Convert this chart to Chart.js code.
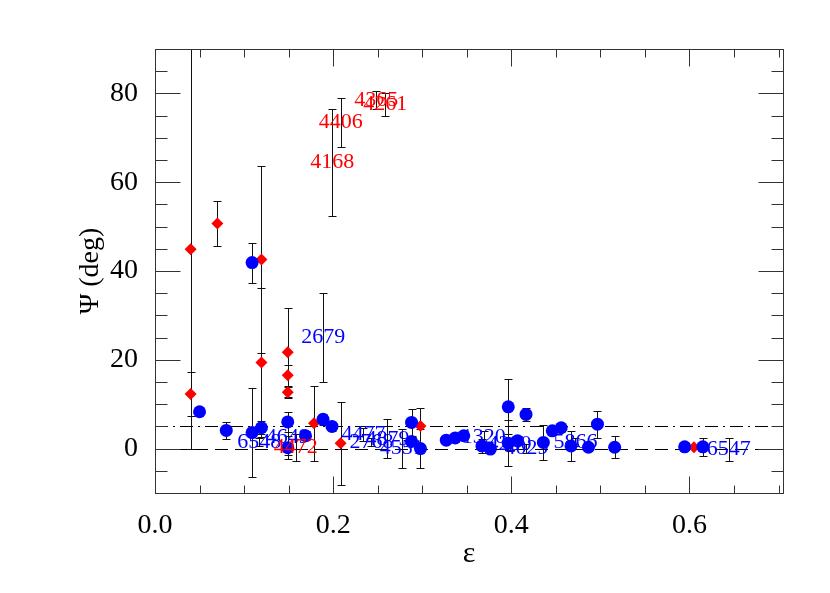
<!DOCTYPE html>
<html>
<head>
<meta charset="utf-8">
<script src="https://cdn.jsdelivr.net/npm/chart.js@4.4.1/dist/chart.umd.min.js"></script>
<style>
  html, body { margin: 0; padding: 0; background: #fff; }
</style>
</head>
<body>
<canvas id="psiChart" width="830" height="593"></canvas>
<script>
// Blue circles: epsilon, Psi (deg), error
const blueX = [0.050, 0.080, 0.109, 0.109, 0.1195, 0.149, 0.149, 0.169, 0.1886, 0.1987, 0.288, 0.288, 0.298, 0.327, 0.337, 0.3466, 0.367, 0.3765, 0.3966, 0.3966, 0.407, 0.4165, 0.436, 0.446, 0.456, 0.467, 0.4866, 0.4967, 0.516, 0.5946, 0.615];
const blueY = [8.3, 4.1, 41.9, 3.6, 4.7, 6.0, 0.2, 2.9, 6.6, 5.0, 5.9, 1.6, 0.0, 1.9, 2.4, 2.9, 0.6, -0.1, 9.4, 1.2, 1.75, 7.7, 1.4, 4.0, 4.7, 0.6, 0.3, 5.5, 0.3, 0.4, 0.4];
const blueErr = [0, 2.0, 4.5, 10.0, 1.5, 2.3, 2.6, 1.0, 1.3, 1.0, 3.0, 1.0, 4.4, 0.8, 0.8, 0.8, 1.5, 1.0, 6.2, 5.2, 1.0, 1.5, 4.0, 0.8, 0.8, 3.3, 0.8, 3.0, 2.5, 0.8, 2.0];

// Red diamonds
const redX = [0.040, 0.040, 0.070, 0.1195, 0.1195, 0.149, 0.149, 0.149, 0.1785, 0.2084, 0.298, 0.605];
const redY = [44.9, 12.3, 50.7, 42.6, 19.4, 21.7, 16.5, 12.7, 5.7, 1.2, 5.1, 0.3];
const redErr = [45, 5.0, 5.0, 21.0, 16.8, 10.0, 2.4, 1.2, 8.5, 9.4, 4.0, 0.5];

// Points shown as their name instead of a marker
const blueNames = ['2679', '6548', '4649', '4477', '4879', '2768', '4551', '1320', '4280', '4029', '5866', '6547'];
const blueLabX = [0.189, 0.117, 0.149, 0.234, 0.261, 0.243, 0.277, 0.369, 0.398, 0.417, 0.472, 0.644];
const blueLabY = [25, 1.5, 2.5, 3.2, 2.2, 1.5, 0, 2.5, 1.0, 0, 1.5, -0.2];
const blueLabErr = [10, 1, 4, 1.5, 4.4, 1, 4.4, 1.5, 1.5, 1, 1, 2.5];

const redNames = ['4168', '4406', '4365', '4261', '4472'];
const redLabX = [0.199, 0.2085, 0.2485, 0.2585, 0.158];
const redLabY = [64.5, 73.5, 78.5, 77.5, 0.3];
const redLabErr = [12, 5.5, 2, 2.5, 3];

// horizontal reference lines: dashed at 0, dash-dot at 5
const refLines = [0, 5];

const serif = "'Liberation Serif', 'Times New Roman', serif";
const BLUE = '#0000ff';
const RED = '#ff0000';

function pts(xs, ys, errs) {
    return xs.map((x, i) => ({ x: x, y: ys[i], err: errs[i] }));
}

function isMultiple(v, step) {
    const r = v / step;
    return Math.abs(r - Math.round(r)) < 1e-6;
}

// error bars, drawn under the markers
const errorBars = {
    id: 'errorBars',
    beforeDatasetsDraw(chart) {
        const { ctx, chartArea: a, scales: { x, y } } = chart;
        ctx.save();
        ctx.beginPath();
        ctx.rect(a.left, a.top - 1, a.width, a.height + 2);
        ctx.clip();

        // reference lines
        ctx.strokeStyle = '#000';
        ctx.lineWidth = 1;
        refLines.forEach((v, i) => {
            const py = Math.round(y.getPixelForValue(v)) + 0.5;
            ctx.setLineDash(i === 0 ? [13, 7] : [13, 5, 2, 5]);
            ctx.beginPath();
            ctx.moveTo(a.left, py);
            ctx.lineTo(a.right, py);
            ctx.stroke();
        });
        ctx.setLineDash([]);

        ctx.strokeStyle = '#111';
        chart.data.datasets.forEach(ds => {
            ds.data.forEach(p => {
                if (!p.err) return;
                const px = Math.round(x.getPixelForValue(p.x)) + 0.5;
                const top = Math.round(y.getPixelForValue(p.y + p.err)) + 0.5;
                const bot = Math.round(y.getPixelForValue(p.y - p.err)) + 0.5;
                ctx.beginPath();
                ctx.moveTo(px, top);
                ctx.lineTo(px, bot);
                ctx.moveTo(px - 4, top);
                ctx.lineTo(px + 4, top);
                ctx.moveTo(px - 4, bot);
                ctx.lineTo(px + 4, bot);
                ctx.stroke();
            });
        });
        ctx.restore();
    }
};

// names written at the point position
const nameLabels = {
    id: 'nameLabels',
    afterDatasetsDraw(chart) {
        const { ctx, scales: { x, y } } = chart;
        ctx.save();
        ctx.font = '22px ' + serif;
        ctx.textAlign = 'center';
        ctx.textBaseline = 'middle';
        chart.data.datasets.forEach(ds => {
            if (!ds.names) return;
            ctx.fillStyle = ds.textColor;
            ds.data.forEach((p, i) => {
                ctx.fillText(ds.names[i], x.getPixelForValue(p.x), y.getPixelForValue(p.y));
            });
        });
        ctx.restore();
    }
};

// box and inward ticks on all four sides
const frame = {
    id: 'frame',
    afterDraw(chart) {
        const { ctx, chartArea: a, scales: { x, y } } = chart;
        const L = Math.round(a.left) + 0.5, R = Math.round(a.right) + 0.5;
        const T = Math.round(a.top) + 0.5, B = Math.round(a.bottom) + 0.5;
        ctx.save();
        ctx.strokeStyle = '#333';
        ctx.lineWidth = 1;
        ctx.beginPath();
        x.ticks.forEach(t => {
            const px = Math.round(x.getPixelForValue(t.value)) + 0.5;
            const len = isMultiple(t.value, 0.2) ? 17 : 8;
            ctx.moveTo(px, B); ctx.lineTo(px, B - len);
            ctx.moveTo(px, T); ctx.lineTo(px, T + len);
        });
        y.ticks.forEach(t => {
            const py = Math.round(y.getPixelForValue(t.value)) + 0.5;
            const len = isMultiple(t.value, 20) ? 25 : 12;
            ctx.moveTo(L, py); ctx.lineTo(L + len, py);
            ctx.moveTo(R, py); ctx.lineTo(R - len, py);
        });
        ctx.stroke();
        ctx.strokeRect(L, T, R - L, B - T);
        ctx.restore();
    }
};

const ctx = document.getElementById('psiChart').getContext('2d');
new Chart(ctx, {
    type: 'scatter',
    data: {
        datasets: [
            {
                data: pts(blueX, blueY, blueErr),
                pointStyle: 'circle',
                pointRadius: 6.5,
                pointBackgroundColor: BLUE,
                pointBorderWidth: 0
            },
            {
                data: pts(redX, redY, redErr),
                pointStyle: 'rectRot',
                pointRadius: 6,
                pointBackgroundColor: RED,
                pointBorderWidth: 0
            },
            {
                data: pts(blueLabX, blueLabY, blueLabErr),
                names: blueNames,
                textColor: BLUE,
                pointRadius: 0
            },
            {
                data: pts(redLabX, redLabY, redLabErr),
                names: redNames,
                textColor: RED,
                pointRadius: 0
            }
        ]
    },
    options: {
        responsive: false,
        animation: false,
        layout: { padding: { left: 70, right: 47, top: 49, bottom: 17 } },
        plugins: {
            legend: { display: false },
            tooltip: { enabled: false }
        },
        scales: {
            x: {
                type: 'linear',
                min: 0,
                max: 0.705,
                grid: { display: false },
                border: { display: false },
                ticks: {
                    stepSize: 0.05,
                    includeBounds: false,
                    autoSkip: false,
                    maxRotation: 0,
                    padding: 8,
                    color: '#000',
                    font: { family: serif, size: 28 },
                    callback: v => isMultiple(v, 0.2) ? v.toFixed(1) : ''
                },
                title: {
                    display: true,
                    text: 'ε',
                    color: '#000',
                    font: { family: serif, size: 30 }
                },
                afterFit: s => { s.height = 83; }
            },
            y: {
                type: 'linear',
                min: -10,
                max: 90,
                grid: { display: false },
                border: { display: false },
                ticks: {
                    stepSize: 5,
                    autoSkip: false,
                    padding: 9,
                    color: '#000',
                    font: { family: serif, size: 28 },
                    callback: v => isMultiple(v, 20) ? String(v) : ''
                },
                title: {
                    display: true,
                    text: 'Ψ (deg)',
                    color: '#000',
                    font: { family: serif, size: 28 }
                },
                afterFit: s => { s.width = 85; }
            }
        }
    },
    plugins: [errorBars, nameLabels, frame]
});
</script>
</body>
</html>
